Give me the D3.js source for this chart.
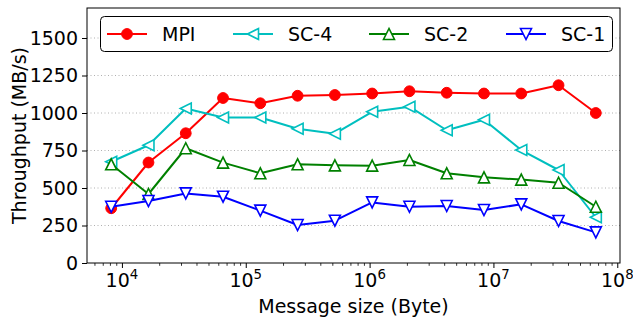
<!DOCTYPE html>
<html>
<head>
<meta charset="utf-8">
<script src="https://cdn.jsdelivr.net/npm/d3@7"></script>
<style>
  body { margin: 0; background: #fff; }
  text { font-family: "DejaVu Sans", sans-serif; fill: #000; }
</style>
</head>
<body>
<svg id="chart" width="633" height="320"></svg>
<script>
// Message sizes (bytes): 2^13 .. 2^26
const sizes = [8192, 16384, 32768, 65536, 131072, 262144, 524288, 1048576,
               2097152, 4194304, 8388608, 16777216, 33554432, 67108864];

// Throughput (MB/s) per configuration
const mpi = [365, 670, 865, 1100, 1065, 1115, 1120, 1130, 1145, 1135, 1130, 1130, 1185, 1000];
const sc4 = [675, 785, 1030, 970, 970, 895, 862, 1008, 1042, 885, 955, 753, 620, 305];
const sc2 = [658, 460, 765, 669, 598, 658, 651, 649, 687, 598, 571, 556, 535, 375];
const sc1 = [375, 413, 464, 442, 349, 253, 282, 404, 375, 380, 353, 391, 280, 204];

const seriesNames = ["MPI", "SC-4", "SC-2", "SC-1"];
const seriesColors = ["#ff0000", "#00bfbf", "#008000", "#0000ff"];
const seriesMarkers = ["circle", "triLeft", "triUp", "triDown"];
const seriesValues = [mpi, sc4, sc2, sc1];

const yTicks = [0, 250, 500, 750, 1000, 1250, 1500];
const xTickExps = [4, 5, 6, 7, 8];

const W = 633, H = 320;
const plot = { left: 87, right: 620, top: 8, bottom: 263 };
const FS = 19;

const svg = d3.select("#chart");

const x = d3.scaleLog().domain([Math.pow(10, 3.718), Math.pow(10, 8.022)])
  .range([plot.left, plot.right]);
const y = d3.scaleLinear().domain([0, 1700]).range([plot.bottom, plot.top]);

// horizontal dotted grid
svg.append("g").selectAll("line").data(yTicks.filter(d => d > 0)).join("line")
  .attr("x1", plot.left).attr("x2", plot.right)
  .attr("y1", d => y(d)).attr("y2", d => y(d))
  .attr("stroke", "#b0b0b0").attr("stroke-width", 1)
  .attr("stroke-dasharray", "1,2.5");

// x axis (log) with minor ticks
const minor = [];
for (let e = 3; e <= 8; e++) {
  for (let m = 1; m <= 9; m++) {
    const v = m * Math.pow(10, e);
    if (v >= x.domain()[0] && v <= x.domain()[1]) minor.push(v);
  }
}
const xAxis = d3.axisBottom(x).tickValues(xTickExps.map(e => Math.pow(10, e)))
  .tickSize(5).tickFormat("");
const gx = svg.append("g").attr("transform", `translate(0,${plot.bottom})`).call(xAxis);
gx.select(".domain").remove();
gx.selectAll(".tick line").attr("stroke", "#000").attr("stroke-width", 1);
const xMinor = d3.axisBottom(x).tickValues(minor.filter(v => !xTickExps.some(e => Math.abs(v - Math.pow(10, e)) < 1e-6)))
  .tickSize(2.8).tickFormat("");
const gxm = svg.append("g").attr("transform", `translate(0,${plot.bottom})`).call(xMinor);
gxm.select(".domain").remove();
gxm.selectAll(".tick line").attr("stroke", "#000").attr("stroke-width", 0.8);

// x tick labels as 10^n
const xl = svg.append("g").selectAll("text").data(xTickExps).join("text")
  .attr("x", d => x(Math.pow(10, d))).attr("y", plot.bottom + 24)
  .attr("text-anchor", "middle").attr("font-size", FS);
xl.append("tspan").text("10");
xl.append("tspan").attr("font-size", FS * 0.7).attr("dy", -FS * 0.42).text(d => d);

// y axis
const yAxis = d3.axisLeft(y).tickValues(yTicks).tickSize(5).tickPadding(4).tickFormat(d3.format("d"));
const gy = svg.append("g").attr("transform", `translate(${plot.left},0)`).call(yAxis);
gy.select(".domain").remove();
gy.selectAll(".tick line").attr("stroke", "#000");
gy.selectAll(".tick text").attr("font-size", FS).attr("font-family", "DejaVu Sans, sans-serif").attr("fill", "#000");

// frame
svg.append("rect").attr("x", plot.left).attr("y", plot.top)
  .attr("width", plot.right - plot.left).attr("height", plot.bottom - plot.top)
  .attr("fill", "none").attr("stroke", "#000").attr("stroke-width", 1);

// axis titles
svg.append("text").attr("x", (plot.left + plot.right) / 2).attr("y", 313)
  .attr("text-anchor", "middle").attr("font-size", FS).text("Message size (Byte)");
svg.append("text").attr("transform", `translate(26,${(plot.top + plot.bottom) / 2}) rotate(-90)`)
  .attr("text-anchor", "middle").attr("font-size", FS).text("Throughput (MB/s)");

// marker shapes
const S = 5.5;
function markerPath(kind) {
  if (kind === "triLeft") return `M${-S},0L${S},${-S}L${S},${S}Z`;
  if (kind === "triUp") return `M0,${-S}L${-S},${S}L${S},${S}Z`;
  if (kind === "triDown") return `M0,${S}L${-S},${-S}L${S},${-S}Z`;
  return null;
}
function drawMarker(g, kind, color) {
  if (kind === "circle") {
    g.append("circle").attr("r", 5.4).attr("fill", color).attr("stroke", color).attr("stroke-width", 1);
  } else {
    g.append("path").attr("d", markerPath(kind)).attr("fill", "#fff")
      .attr("stroke", color).attr("stroke-width", 1.6).attr("stroke-linejoin", "miter");
  }
}

// series lines and markers
const line = d3.line().x(d => x(d[0])).y(d => y(d[1]));
seriesValues.forEach((vals, i) => {
  const pts = sizes.map((s, j) => [s, vals[j]]);
  const g = svg.append("g");
  g.append("path").datum(pts).attr("d", line).attr("fill", "none")
    .attr("stroke", seriesColors[i]).attr("stroke-width", 2).attr("stroke-linejoin", "round");
  pts.forEach(p => {
    const mg = g.append("g").attr("transform", `translate(${x(p[0])},${y(p[1])})`);
    drawMarker(mg, seriesMarkers[i], seriesColors[i]);
  });
});

// legend
const lg = svg.append("g");
lg.append("rect").attr("x", 100.5).attr("y", 16.5).attr("width", 512).attr("height", 35)
  .attr("rx", 4).attr("fill", "#fff").attr("stroke", "#000").attr("stroke-width", 1);
const legendX = [107, 233, 369, 506];
seriesNames.forEach((name, i) => {
  const cy = 34;
  lg.append("line").attr("x1", legendX[i]).attr("x2", legendX[i] + 40)
    .attr("y1", cy).attr("y2", cy).attr("stroke", seriesColors[i]).attr("stroke-width", 2);
  const mg = lg.append("g").attr("transform", `translate(${legendX[i] + 20},${cy})`);
  drawMarker(mg, seriesMarkers[i], seriesColors[i]);
  lg.append("text").attr("x", legendX[i] + 55).attr("y", cy + 7).attr("font-size", FS).text(name);
});
</script>
</body>
</html>
